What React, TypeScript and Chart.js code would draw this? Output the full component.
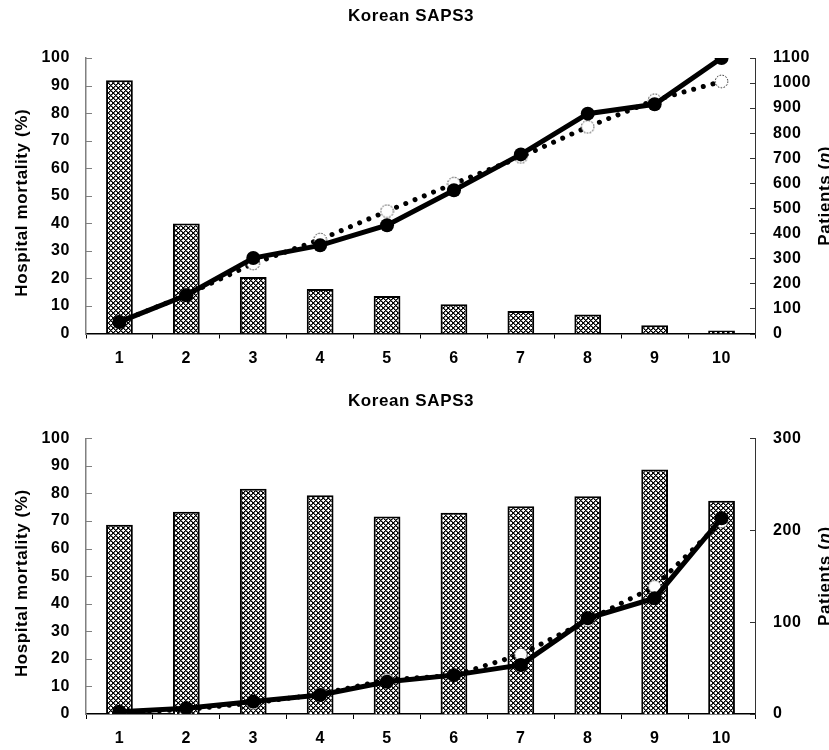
import React, { useEffect, useRef } from 'react';
import { Chart, registerables } from 'chart.js';

Chart.register(...registerables);

// ---------- data ----------
const categories = ['1', '2', '3', '4', '5', '6', '7', '8', '9', '10'];

const topPatients = [1011, 439, 226, 178, 150, 117, 90, 76, 33, 8];
const topObserved = [4.2, 13.9, 27.4, 32, 39.3, 52, 65, 79.8, 83.2, 100];
const topPredicted = [4.2, 14, 25.4, 34.1, 44.4, 54.4, 64.1, 75, 84.7, 91.5];

const bottomPatients = [206, 220, 245, 238, 215, 219, 226, 237, 266, 232];
const bottomObserved = [0.8, 2.1, 4.5, 6.9, 11.7, 14.1, 17.8, 34.7, 42, 71];
const bottomPredicted = [0.5, 1.6, 4, 7.2, 12.4, 14, 21.6, 34, 46.2, 69.8];

const chartTitle = 'Korean SAPS3';
const leftAxisTitle = 'Hospital mortality (%)';
const rightAxisTitleParts = ['Patients (', 'n', ')'];

const FONT = "'Liberation Sans', Arial, Helvetica, sans-serif";
const LS = '0.6px';
const W = 829;
const H = 375;

function makeHatch(): HTMLCanvasElement {
  const n = 5;
  const c = document.createElement('canvas');
  c.width = n;
  c.height = n;
  const ctx = c.getContext('2d')!;
  const img = ctx.createImageData(n, n);
  for (let y = 0; y < n; y++) {
    for (let x = 0; x < n; x++) {
      const a = (x + y) % n;
      const b = (((x - y) % n) + n) % n;
      let v = 255;
      if (a === 0 || b === 0) v = 0;
      else if (a === 1 || b === 1) v = 110;
      const i = (y * n + x) * 4;
      img.data[i] = v;
      img.data[i + 1] = v;
      img.data[i + 2] = v;
      img.data[i + 3] = 255;
    }
  }
  ctx.putImageData(img, 0, 0);
  return c;
}

function makeOpenMarker(): HTMLCanvasElement {
  const c = document.createElement('canvas');
  c.width = 15;
  c.height = 15;
  const ctx = c.getContext('2d')!;
  ctx.beginPath();
  ctx.arc(7.5, 7.5, 6.3, 0, Math.PI * 2);
  ctx.fillStyle = '#ffffff';
  ctx.fill();
  ctx.setLineDash([1.5, 1.5]);
  ctx.lineWidth = 1;
  ctx.strokeStyle = '#111111';
  ctx.stroke();
  return c;
}

interface Geo {
  top: number;
  bottom: number;
  titleBaseline: number;
}

function decorPlugin(geo: Geo) {
  return {
    id: 'decor',
    beforeDraw(chart: any) {
      (chart.ctx as any).letterSpacing = LS;
    },
    afterDraw(chart: any) {
      const ctx: CanvasRenderingContext2D = chart.ctx;
      const area = chart.chartArea;
      ctx.save();
      (ctx as any).letterSpacing = LS;
      ctx.fillStyle = '#000';
      // title
      ctx.font = `bold 17px ${FONT}`;
      ctx.textAlign = 'center';
      ctx.textBaseline = 'alphabetic';
      ctx.fillText(chartTitle, 411, geo.titleBaseline);

      const cy = (area.top + area.bottom) / 2;
      // left axis title
      ctx.save();
      ctx.translate(27, cy + 7);
      ctx.rotate(-Math.PI / 2);
      ctx.font = `bold 17px ${FONT}`;
      ctx.textAlign = 'center';
      ctx.fillText(leftAxisTitle, 0, 0);
      ctx.restore();

      // right axis title (mixed italic)
      ctx.save();
      ctx.translate(830, cy);
      ctx.rotate(-Math.PI / 2);
      ctx.textAlign = 'left';
      const fonts = [`bold 17px ${FONT}`, `italic bold 17px ${FONT}`, `bold 17px ${FONT}`];
      let total = 0;
      const widths: number[] = [];
      rightAxisTitleParts.forEach((p, i) => {
        ctx.font = fonts[i];
        const w = ctx.measureText(p).width;
        widths.push(w);
        total += w;
      });
      let x = -total / 2;
      rightAxisTitleParts.forEach((p, i) => {
        ctx.font = fonts[i];
        ctx.fillText(p, x, 0);
        x += widths[i];
      });
      ctx.restore();

      // inward tick marks on y axes
      const yL = chart.scales.yL;
      const yR = chart.scales.yR;
      ctx.lineWidth = 1;
      ctx.strokeStyle = '#808080';
      yL.ticks.forEach((t: any) => {
        const py = Math.round(yL.getPixelForValue(t.value)) + 0.5;
        ctx.beginPath();
        ctx.moveTo(area.left, py);
        ctx.lineTo(area.left + 6, py);
        ctx.stroke();
      });
      ctx.strokeStyle = '#333333';
      yR.ticks.forEach((t: any) => {
        const py = Math.round(yR.getPixelForValue(t.value)) + 0.5;
        ctx.beginPath();
        ctx.moveTo(area.right - 5, py);
        ctx.lineTo(area.right, py);
        ctx.stroke();
      });
      ctx.restore();
    },
  };
}

function buildChart(
  canvas: HTMLCanvasElement,
  patients: number[],
  observed: number[],
  predicted: number[],
  patMax: number,
  geo: Geo
): Chart {
  const ctx = canvas.getContext('2d')!;
  const pattern = ctx.createPattern(makeHatch(), 'repeat')!;
  const marker = makeOpenMarker();
  const tickFont = { size: 16, weight: 'bold' as const, family: FONT };
  return new Chart(canvas, {
    type: 'bar',
    data: {
      labels: categories,
      datasets: [
        {
          type: 'line',
          data: observed,
          yAxisID: 'yL',
          borderColor: '#000',
          borderWidth: 5,
          pointRadius: 7,
          pointBackgroundColor: '#000',
          pointBorderColor: '#000',
          pointBorderWidth: 0,
          tension: 0,
          order: 0,
        } as any,
        {
          type: 'line',
          data: predicted,
          yAxisID: 'yL',
          borderColor: '#000',
          borderWidth: 5,
          borderDash: [0.001, 10],
          borderCapStyle: 'round',
          pointStyle: marker,
          pointRadius: 6.5,
          tension: 0,
          order: 1,
        } as any,
        {
          type: 'bar',
          data: patients,
          yAxisID: 'yR',
          backgroundColor: pattern,
          borderColor: '#000',
          borderWidth: 2,
          barPercentage: 0.4,
          categoryPercentage: 1,
          minBarLength: 3,
          order: 2,
        } as any,
      ],
    },
    options: {
      animation: false,
      responsive: false,
      devicePixelRatio: 1,
      layout: { padding: { top: geo.top, left: 0, right: 0, bottom: 0 } },
      plugins: { legend: { display: false }, tooltip: { enabled: false }, title: { display: false } },
      scales: {
        x: {
          offset: true,
          grid: { display: true, drawOnChartArea: false, drawTicks: true, tickLength: 5, color: '#000', lineWidth: 1, offset: true },
          border: { display: true, color: '#000', width: 1.5 },
          ticks: { padding: 10, color: '#000', font: tickFont, maxRotation: 0 },
          afterFit: (s: any) => {
            s.height = H - geo.bottom;
          },
        },
        yL: {
          position: 'left',
          min: 0,
          max: 100,
          grid: { display: false, drawTicks: false },
          border: { display: true, color: '#808080', width: 1.5 },
          ticks: { stepSize: 10, padding: 16, color: '#000', font: tickFont, callback: (v: any) => String(v) },
          afterFit: (s: any) => {
            s.width = 86;
          },
        },
        yR: {
          position: 'right',
          min: 0,
          max: patMax,
          grid: { display: false, drawTicks: false },
          border: { display: true, color: '#333', width: 1 },
          ticks: { stepSize: 100, padding: 18, color: '#000', font: tickFont, callback: (v: any) => String(v) },
          afterFit: (s: any) => {
            s.width = W - 755;
          },
        },
      },
    } as any,
    plugins: [decorPlugin(geo) as any],
  });
}

export default function App() {
  const topRef = useRef<HTMLCanvasElement>(null);
  const botRef = useRef<HTMLCanvasElement>(null);

  useEffect(() => {
    document.body.style.margin = '0';
    document.body.style.overflow = 'hidden';
    const c1 = buildChart(topRef.current!, topPatients, topObserved, topPredicted, 1100, {
      top: 58,
      bottom: 333.5,
      titleBaseline: 20.7,
    });
    const c2 = buildChart(botRef.current!, bottomPatients, bottomObserved, bottomPredicted, 300, {
      top: 63.3,
      bottom: 339,
      titleBaseline: 30.7,
    });
    return () => {
      c1.destroy();
      c2.destroy();
    };
  }, []);

  return (
    <div style={{ width: W, height: 750, background: '#fff' }}>
      <canvas ref={topRef} width={W} height={H} style={{ display: 'block' }} />
      <canvas ref={botRef} width={W} height={H} style={{ display: 'block' }} />
    </div>
  );
}
